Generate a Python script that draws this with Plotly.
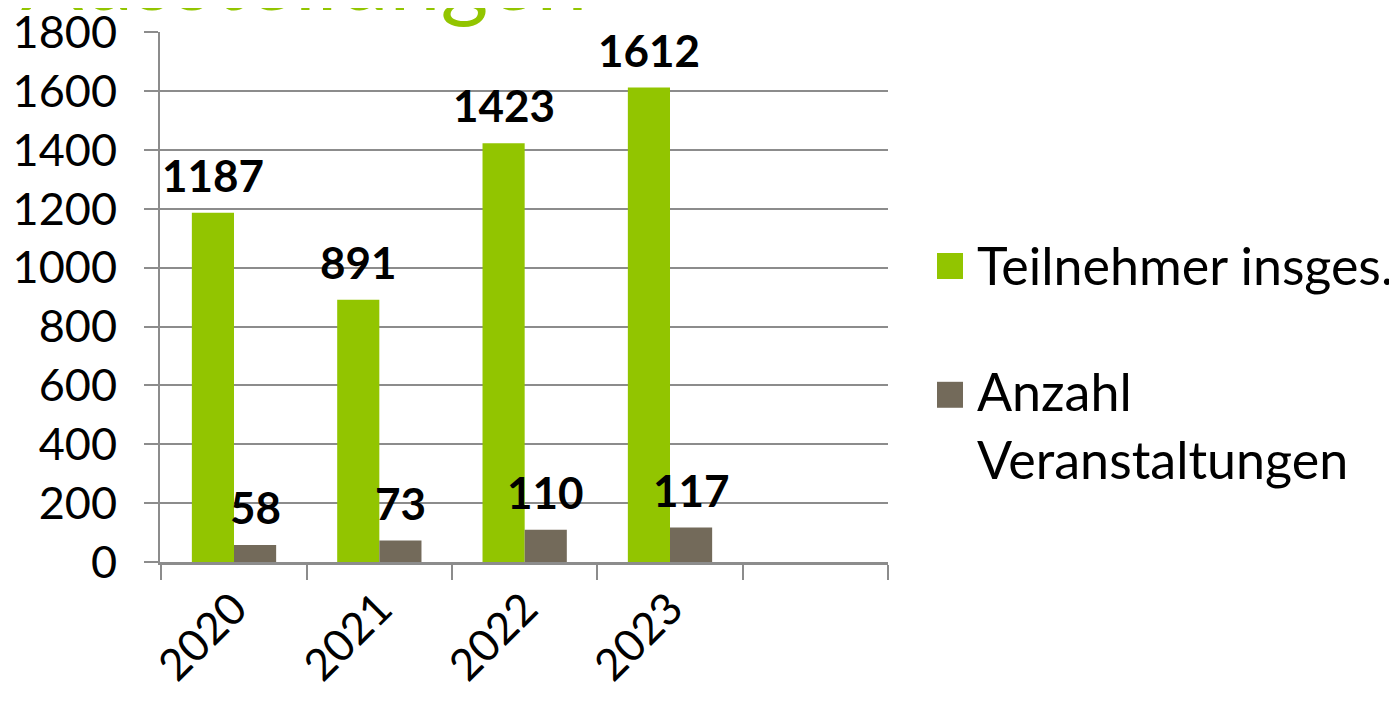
import plotly.graph_objects as go

categories = ["2020", "2021", "2022", "2023", " "]
teilnehmer = [1187, 891, 1423, 1612, None]
veranstaltungen = [58, 73, 110, 117, None]
series_names = ["Teilnehmer insges.", "Anzahl<br>Veranstaltungen"]
colors = ["#92C500", "#736A5A"]
y_ticks = [0, 200, 400, 600, 800, 1000, 1200, 1400, 1600, 1800]

FONT = "Lato, 'Noto Sans', sans-serif"

fig = go.Figure()
fig.add_trace(go.Bar(x=categories, y=teilnehmer, name=series_names[0],
                     marker=dict(color=colors[0], line=dict(width=0)), showlegend=False))
fig.add_trace(go.Bar(x=categories, y=veranstaltungen, name=series_names[1],
                     marker=dict(color=colors[1], line=dict(width=0)), showlegend=False))

annotations = []
for vals, shift in ((teilnehmer, -21), (veranstaltungen, 21)):
    for i, v in enumerate(vals):
        if v is None:
            continue
        annotations.append(dict(x=i, y=v, xref="x", yref="y", text=f"<b>{v}</b>",
                                showarrow=False, xanchor="center", yanchor="bottom",
                                xshift=shift, yshift=10,
                                font=dict(family=FONT, size=44, color="black")))

# partially visible title at top
annotations.append(dict(x=0.591, y=1.0, xref="paper", yref="paper", text="Ausstellungen",
                        showarrow=False, xanchor="right", yanchor="bottom",
                        font=dict(family=FONT, size=92, color="#92C500")))

# manual legend
annotations.append(dict(x=1.1195, y=0.560, xref="paper", yref="paper",
                        text=series_names[0], showarrow=False, xanchor="left", yanchor="middle",
                        align="left", font=dict(family=FONT, size=52, color="black")))
annotations.append(dict(x=1.1195, y=0.258, xref="paper", yref="paper",
                        text=series_names[1], showarrow=False, xanchor="left", yanchor="middle",
                        align="left", font=dict(family=FONT, size=52, color="black")))

shapes = [
    dict(type="rect", xref="paper", yref="paper", x0=1.0673, x1=1.1030,
         y0=0.534, y1=0.583, fillcolor=colors[0], line=dict(width=0)),
    dict(type="rect", xref="paper", yref="paper", x0=1.0673, x1=1.1030,
         y0=0.291, y1=0.340, fillcolor=colors[1], line=dict(width=0)),
]

fig.update_layout(
    width=1397, height=701,
    margin=dict(l=152, r=517, t=24, b=147, autoexpand=False),
    paper_bgcolor="white", plot_bgcolor="white",
    barmode="group", bargap=0.42, bargroupgap=0,
    annotations=annotations, shapes=shapes,
    showlegend=False,
    font=dict(family=FONT, color="black"),
)
fig.update_yaxes(range=[0, 1801], tickvals=y_ticks, ticks="outside", ticklen=14,
                 tickcolor="#8C8C8C", tickwidth=2, showgrid=True, gridcolor="#8C8C8C",
                 gridwidth=2, showline=True, linecolor="#8C8C8C", linewidth=2,
                 ticklabelstandoff=18, automargin=False, ticklabeloverflow="allow",
                 tickfont=dict(family=FONT, size=45, color="black"), zeroline=False)
fig.update_xaxes(type="category", tickson="boundaries", ticks="outside", ticklen=15,
                 tickcolor="#8C8C8C", tickwidth=2, showline=True, linecolor="#8C8C8C",
                 linewidth=3, tickangle=-45, showgrid=False, automargin=False,
                 ticklabeloverflow="allow",
                 tickfont=dict(family=FONT, size=44, color="black"))

fig.write_html("out.html")
